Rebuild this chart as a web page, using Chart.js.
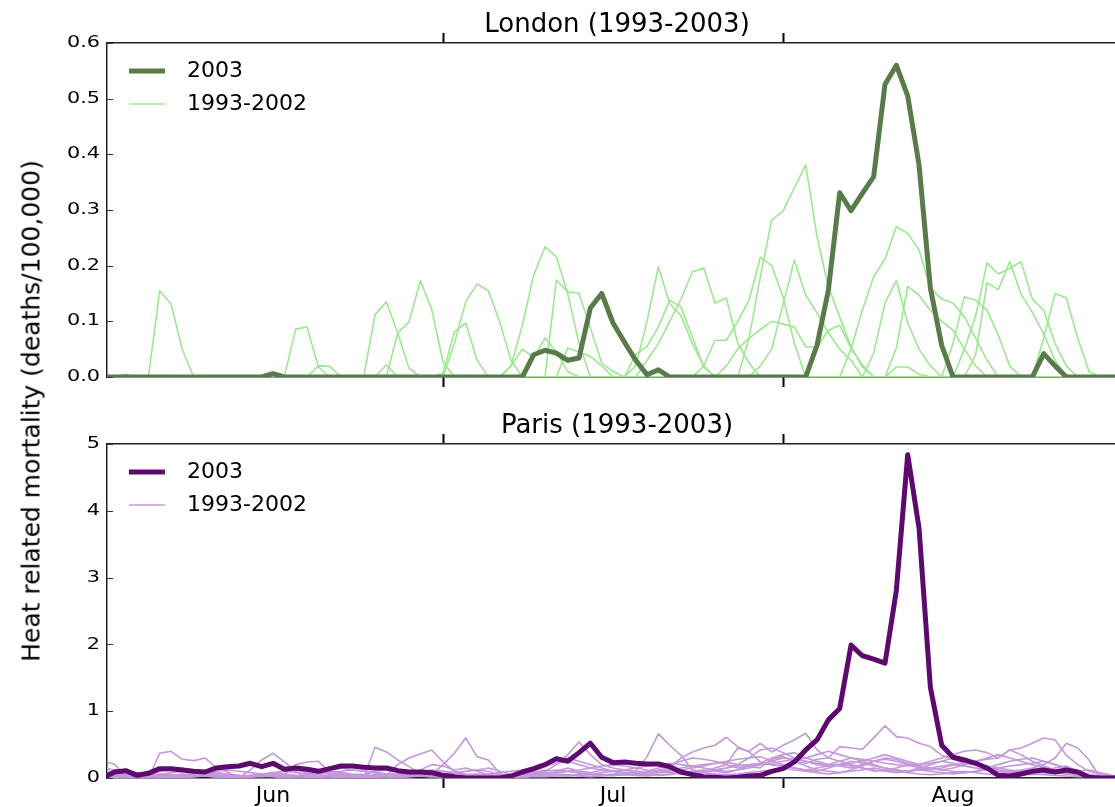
<!DOCTYPE html>
<html>
<head>
<meta charset="utf-8">
<script src="https://cdn.jsdelivr.net/npm/chart.js@4.4.1/dist/chart.umd.min.js"></script>
<style>
body { margin: 0; background: #fff; overflow: hidden; }
#wrap { position: relative; width: 1140px; height: 807px; }
canvas { position: absolute; left: 0; }
#ylabel { position: absolute; left: 31px; top: 411px; transform: translate(-50%, -50%) rotate(-90deg);
  font: 25px "DejaVu Sans"; white-space: nowrap; color: #000; }
</style>
</head>
<body>
<div id="wrap">
  <canvas id="london" width="1140" height="400" style="top:0"></canvas>
  <canvas id="paris" width="1140" height="407" style="top:400px"></canvas>
  <div id="ylabel">Heat related mortality (deaths/100,000)</div>
</div>
<script>
// day index along the summer (x axis)
var days = [0,1,2,3,4,5,6,7,8,9,10,11,12,13,14,15,16,17,18,19,20,21,22,23,24,25,26,27,28,29,
  30,31,32,33,34,35,36,37,38,39,40,41,42,43,44,45,46,47,48,49,50,51,52,53,54,55,56,57,58,59,
  60,61,62,63,64,65,66,67,68,69,70,71,72,73,74,75,76,77,78,79,80,81,82,83,84,85,86,87,88,89,90];

var monthEdges = [30, 60];
var monthMids = [15, 45, 75];
var monthNames = ['Jun', 'Jul', 'Aug'];

var londonTicks = [0, 0.1, 0.2, 0.3, 0.4, 0.5, 0.6];
var londonTickLabels = ['0.0', '0.1', '0.2', '0.3', '0.4', '0.5', '0.6'];
var parisTicks = [0, 1, 2, 3, 4, 5];
var parisTickLabels = ['0', '1', '2', '3', '4', '5'];

var london2003 = [0,0,0,0,0,0,0,0,0,0,
  0,0,0,0,0,0.006,0,0,0,0,
  0,0,0,0,0,0,0,0,0,0,
  0,0,0,0,0,0,0,0,0.04,0.048,
  0.043,0.03,0.034,0.124,0.15,0.097,0.063,0.03,0.004,0.013,
  0,0,0,0,0,0,0,0,0,0,
  0,0,0,0.057,0.156,0.331,0.299,0.33,0.36,0.526,
  0.56,0.505,0.381,0.16,0.057,0,0,0,0,0,
  0,0,0,0.042,0.02,0,0,0,0,0,0];

var londonPast = [
  [0,0,0,0,0,0.155,0.131,0.049,0,0,
   0,0,0,0,0,0,0,0,0,0,
   0,0,0,0,0.112,0.135,0.079,0.016,0,0,
   0,0,0,0,0,0,0.02,0.093,0.183,0.234,
   0.216,0.15,0.06,0,0,0,0,0,0.03,0.06,
   0.1,0.14,0.189,0.196,0.133,0.142,0.061,0.025,0,0,
   0,0,0,0,0,0,0.05,0.12,0.18,0.212,
   0.27,0.258,0.228,0.16,0.14,0.133,0.108,0.07,0.03,0,
   0,0,0,0,0,0,0,0,0,0,0],
  [0,0,0,0,0,0,0,0,0,0,
   0,0,0,0,0,0,0,0.086,0.09,0.018,
   0,0,0,0,0,0,0.079,0.099,0.173,0.122,
   0.027,0,0,0,0,0,0,0,0,0,
   0.174,0.153,0.15,0.088,0.025,0.01,0,0,0,0,
   0,0,0,0.02,0.066,0.066,0.1,0.138,0.215,0.2,
   0.144,0.061,0,0,0,0,0,0,0.043,0.133,
   0.173,0.097,0.05,0.02,0,0,0,0,0,0,
   0,0,0,0.07,0.15,0.142,0.07,0.01,0,0,0],
  [0,0,0,0,0,0,0,0,0,0,
   0,0,0,0,0,0,0,0,0,0,
   0,0,0,0,0,0,0,0,0,0,
   0.007,0.081,0.097,0.03,0,0,0,0,0,0,
   0,0.052,0.045,0.037,0.02,0,0,0.02,0.1,0.198,
   0.132,0.11,0.06,0.02,0,0,0,0.07,0.18,0.282,
   0.298,0.34,0.381,0.252,0.162,0.108,0.054,0.018,0,0,
   0,0,0,0,0,0.06,0.144,0.138,0.12,0.075,
   0.02,0,0,0,0,0,0,0,0,0,0],
  [0,0,0,0,0,0,0,0,0,0,
   0,0,0,0,0,0,0,0,0,0,
   0,0,0,0,0,0,0,0,0,0,
   0,0.06,0.135,0.167,0.155,0.099,0.03,0,0,0,
   0,0,0,0,0,0,0,0.04,0.055,0.09,
   0.138,0.126,0.072,0.018,0,0.02,0.05,0.07,0.085,0.1,
   0.095,0.09,0.054,0.054,0.084,0.093,0.052,0.022,0,0,
   0.052,0.163,0.147,0.12,0.1,0.084,0.05,0.02,0,0,
   0,0,0,0,0,0,0,0,0,0,0],
  [0,0,0,0,0,0,0,0,0,0,
   0,0,0,0,0,0,0,0,0,0,
   0,0,0,0,0,0,0,0,0,0,
   0,0,0,0,0,0,0.02,0.05,0.035,0.07,
   0.045,0.01,0,0,0,0,0,0,0,0,
   0,0,0,0,0,0,0,0,0.02,0.05,
   0.13,0.21,0.147,0.115,0.08,0.05,0.03,0,0,0,
   0,0,0,0,0,0,0.05,0.11,0.205,0.185,
   0.195,0.207,0.14,0.12,0.06,0.02,0,0,0,0,0],
  [0,0,0,0,0,0,0,0,0,0,
   0,0,0,0,0,0,0,0,0,0,
   0,0,0,0,0,0,0,0,0,0,
   0,0,0,0,0,0,0,0,0,0,
   0,0,0,0,0,0,0,0,0,0,
   0,0,0,0,0,0,0,0,0,0,
   0,0,0,0,0,0,0,0,0,0,
   0,0,0,0,0,0,0,0.04,0.169,0.157,
   0.207,0.149,0.116,0.077,0.03,0,0,0,0,0,0],
  [0,0,0.005,0,0,0,0,0,0,0,
   0,0,0,0,0,0,0,0,0,0,
   0,0,0,0,0,0,0,0,0,0,
   0,0,0,0,0,0,0,0,0,0,
   0,0,0,0,0,0,0,0,0,0,
   0,0,0,0,0,0,0,0,0,0,
   0,0,0,0,0,0,0,0,0,0,
   0,0,0,0,0,0,0,0,0,0,
   0,0,0,0,0,0,0,0,0,0,0],
  [0,0,0,0,0,0,0,0,0,0,
   0,0,0,0,0,0,0,0,0,0,
   0,0,0,0,0,0.022,0,0,0,0,
   0,0,0,0,0,0,0,0,0,0,
   0,0,0,0,0,0,0,0,0,0,
   0,0,0,0,0,0,0,0,0,0,
   0,0,0,0,0,0,0,0,0,0,
   0,0,0,0,0,0,0,0,0,0,
   0,0,0,0,0,0,0,0,0,0,0],
  [0,0,0,0,0,0,0,0,0,0,
   0,0,0,0,0,0,0,0,0,0,
   0,0,0,0,0,0,0,0,0,0,
   0,0,0,0,0,0,0,0,0,0,
   0,0,0,0,0,0,0,0,0,0,
   0,0,0,0,0,0,0,0,0,0,
   0,0,0,0,0,0,0,0,0,0,
   0.018,0.018,0.005,0,0,0,0,0,0,0,
   0,0,0,0,0,0,0,0,0,0,0],
  [0,0,0,0,0,0,0,0,0,0,
   0,0,0,0,0,0,0,0,0,0.02,
   0.019,0,0,0,0,0,0,0,0,0,
   0,0,0,0,0,0,0,0,0,0,
   0,0,0,0,0,0,0,0,0,0,
   0,0,0,0,0,0,0,0,0,0,
   0,0,0,0,0,0,0,0,0,0,
   0,0,0,0,0,0,0,0,0,0,
   0,0,0,0,0,0,0,0,0,0,0]
];

var paris2003 = [0,0.09,0.11,0.04,0.07,0.14,0.14,0.12,0.1,0.09,
  0.15,0.17,0.18,0.22,0.17,0.22,0.13,0.15,0.13,0.1,
  0.14,0.18,0.18,0.16,0.15,0.15,0.11,0.09,0.09,0.08,
  0.04,0.02,0,0,0,0,0.03,0.09,0.14,0.2,
  0.29,0.25,0.38,0.52,0.31,0.23,0.24,0.22,0.21,0.21,
  0.17,0.09,0.05,0.02,0.01,0,0.01,0.03,0.04,0.1,
  0.14,0.24,0.42,0.57,0.87,1.04,1.99,1.83,1.78,1.72,
  2.81,4.84,3.74,1.36,0.49,0.31,0.27,0.22,0.15,0.04,
  0.03,0.06,0.1,0.12,0.09,0.12,0.09,0.01,0,0,0];

var parisPast = [
  [0.25,0.21,0.02,0,0.03,0.05,0.04,0.06,0.05,0.03,
   0.02,0,0,0.12,0.27,0.37,0.24,0.1,0,0.02,
   0.05,0.06,0.04,0.02,0,0.03,0.2,0.3,0.36,0.42,
   0.24,0.1,0.02,0,0.03,0.05,0,0.05,0.08,0.12,
   0.1,0.15,0.1,0.08,0.12,0.1,0.07,0.05,0.08,0.12,
   0.15,0.3,0.39,0.45,0.49,0.61,0.47,0.39,0.24,0.2,
   0.18,0.25,0.22,0.28,0.3,0.47,0.45,0.43,0.6,0.78,
   0.62,0.6,0.52,0.47,0.34,0.28,0.22,0.2,0.18,0.15,
   0.12,0.1,0.08,0.12,0.15,0.18,0.1,0.05,0.02,0,0],
  [0.05,0.08,0.1,0.05,0,0.37,0.4,0.28,0.26,0.3,
   0.15,0.09,0,0.02,0.05,0.08,0.06,0.04,0.02,0.05,
   0.08,0.06,0.03,0,0.46,0.39,0.27,0.17,0.07,0.05,
   0.2,0.37,0.6,0.32,0.27,0.07,0,0.02,0.04,0.06,
   0.08,0.1,0.07,0.05,0.04,0.06,0.08,0.1,0.32,0.66,
   0.49,0.34,0.12,0.1,0.15,0.2,0.45,0.4,0.52,0.39,
   0.49,0.57,0.67,0.42,0.3,0.25,0.2,0.15,0.1,0.12,
   0.15,0.2,0.18,0.15,0.12,0.15,0.2,0.25,0.28,0.3,
   0.42,0.45,0.52,0.6,0.57,0.34,0.2,0.1,0.05,0.02,0],
  [0.1,0.08,0.05,0.02,0,0.05,0.08,0.1,0.12,0.1,
   0.08,0.05,0.03,0.02,0.04,0.05,0.05,0.2,0.24,0.25,
   0.09,0,0.02,0.05,0.1,0.12,0.1,0.08,0.05,0.04,
   0.06,0.08,0.1,0.12,0.15,0.1,0.05,0.02,0.05,0.1,
   0.2,0.35,0.54,0.35,0.2,0.15,0.12,0.1,0.08,0.1,
   0.12,0.15,0.18,0.2,0.22,0.25,0.28,0.3,0.32,0.25,
   0.2,0.15,0.12,0.1,0.15,0.2,0.25,0.22,0.18,0.15,
   0.12,0.1,0.15,0.2,0.25,0.3,0.28,0.2,0.15,0.12,
   0.1,0.12,0.15,0.2,0.3,0.52,0.45,0.27,0,0,0],
  [0.02,0.04,0.03,0.02,0.05,0.1,0.12,0.15,0.1,0.08,
   0.05,0.03,0.02,0.02,0.05,0.07,0.1,0.12,0.08,0.05,
   0.02,0,0,0.02,0.05,0.06,0.05,0.04,0.12,0.2,
   0.18,0.12,0.15,0.1,0.05,0.02,0,0.02,0.1,0.18,
   0.22,0.25,0.2,0.15,0.12,0.1,0.08,0.06,0.05,0.08,
   0.1,0.12,0.15,0.18,0.22,0.24,0.2,0.17,0.15,0.28,
   0.32,0.25,0.18,0.12,0.1,0.08,0.12,0.18,0.25,0.3,
   0.28,0.22,0.18,0.15,0.12,0.1,0.08,0.1,0.15,0.2,
   0.25,0.28,0.3,0.25,0.2,0.15,0.1,0.05,0.02,0,0],
  [0,0.02,0.04,0.05,0.04,0.06,0.05,0.04,0.06,0.08,
   0.1,0.12,0.1,0.08,0.06,0.05,0.03,0.02,0.04,0.06,
   0.08,0.1,0.12,0.1,0.08,0.06,0.05,0.04,0.03,0.02,
   0.05,0.08,0.1,0.12,0.1,0.05,0.02,0,0.03,0.05,
   0.08,0.1,0.12,0.15,0.18,0.2,0.18,0.15,0.12,0.1,
   0.08,0.06,0.05,0.08,0.12,0.15,0.2,0.3,0.42,0.45,
   0.38,0.3,0.25,0.2,0.18,0.2,0.22,0.25,0.3,0.35,
   0.3,0.25,0.2,0.25,0.3,0.35,0.4,0.42,0.38,0.3,
   0.42,0.35,0.25,0.18,0.12,0.08,0.05,0.03,0.02,0,0],
  [0.05,0.03,0.02,0,0.02,0.04,0.02,0,0.02,0.05,
   0.08,0.06,0.04,0.02,0.05,0.08,0.1,0.08,0.06,0.08,
   0.1,0.08,0.06,0.05,0.04,0.02,0,0.02,0.05,0.08,
   0.1,0.08,0.05,0.04,0.06,0.08,0.1,0.12,0.15,0.2,
   0.25,0.3,0.25,0.2,0.15,0.1,0.08,0.06,0.05,0.04,
   0.05,0.08,0.1,0.12,0.1,0.08,0.12,0.18,0.2,0.22,
   0.25,0.28,0.3,0.35,0.4,0.35,0.3,0.25,0.2,0.15,
   0.12,0.1,0.12,0.15,0.18,0.2,0.22,0.25,0.3,0.35,
   0.3,0.25,0.2,0.15,0.1,0.08,0.1,0.12,0.08,0.04,0],
  [0.15,0.12,0.1,0.08,0.05,0.02,0,0.02,0.04,0.03,
   0.02,0,0,0.02,0.03,0.02,0,0.02,0.05,0.08,
   0.12,0.15,0.12,0.1,0.08,0.06,0.05,0.08,0.1,0.12,
   0.1,0.08,0.06,0.05,0.03,0.02,0.02,0.05,0.08,0.1,
   0.12,0.1,0.08,0.06,0.05,0.04,0.05,0.08,0.1,0.15,
   0.2,0.25,0.3,0.28,0.25,0.2,0.15,0.18,0.22,0.3,
   0.35,0.38,0.3,0.25,0.2,0.18,0.15,0.2,0.25,0.28,
   0.25,0.2,0.15,0.12,0.15,0.2,0.18,0.15,0.12,0.1,
   0.08,0.1,0.12,0.1,0.08,0.06,0.04,0.02,0.02,0,0],
  [0.08,0.06,0.04,0.05,0.06,0.04,0.02,0.02,0.03,0.05,
   0.04,0.03,0.02,0.04,0.06,0.04,0.02,0.02,0.03,0.02,
   0.02,0.03,0.05,0.04,0.03,0.02,0.03,0.05,0.06,0.05,
   0.03,0.02,0.04,0.06,0.05,0.03,0.02,0.04,0.06,0.08,
   0.06,0.05,0.04,0.05,0.08,0.1,0.12,0.15,0.18,0.2,
   0.22,0.2,0.18,0.15,0.12,0.1,0.12,0.15,0.2,0.25,
   0.3,0.28,0.25,0.22,0.2,0.25,0.3,0.28,0.25,0.22,
   0.2,0.18,0.2,0.22,0.25,0.22,0.18,0.15,0.12,0.15,
   0.18,0.2,0.22,0.25,0.2,0.15,0.1,0.05,0.02,0,0],
  [0.03,0.02,0.02,0.01,0.02,0.03,0.02,0.01,0.02,0.03,
   0.02,0.02,0.03,0.02,0.02,0.03,0.04,0.03,0.02,0.02,
   0.03,0.04,0.03,0.02,0.02,0.03,0.02,0.02,0.03,0.04,
   0.03,0.02,0.03,0.05,0.04,0.03,0.02,0.03,0.04,0.05,
   0.04,0.03,0.05,0.06,0.05,0.04,0.05,0.06,0.08,0.1,
   0.12,0.1,0.08,0.1,0.12,0.15,0.18,0.2,0.22,0.2,
   0.18,0.15,0.12,0.15,0.18,0.2,0.18,0.15,0.12,0.1,
   0.08,0.1,0.12,0.1,0.08,0.06,0.08,0.1,0.12,0.1,
   0.08,0.06,0.05,0.06,0.08,0.06,0.04,0.02,0.01,0,0],
  [0.01,0.01,0.02,0.03,0.02,0.01,0.02,0.03,0.04,0.03,
   0.02,0.01,0.01,0.02,0.03,0.04,0.03,0.02,0.01,0.01,
   0.02,0.03,0.02,0.01,0.01,0.02,0.03,0.04,0.03,0.02,
   0.01,0.02,0.03,0.02,0.01,0.01,0.02,0.03,0.02,0.02,
   0.03,0.04,0.03,0.02,0.03,0.04,0.05,0.04,0.03,0.05,
   0.06,0.08,0.1,0.08,0.06,0.05,0.06,0.08,0.1,0.12,
   0.15,0.12,0.1,0.08,0.06,0.08,0.1,0.12,0.15,0.12,
   0.1,0.08,0.06,0.05,0.06,0.08,0.1,0.08,0.06,0.05,
   0.04,0.05,0.06,0.05,0.04,0.03,0.02,0.02,0.01,0,0]
];

var FONT = '"DejaVu Sans"';

function decor(title, dark, light, tickLabels, showMonths) {
    return {
        id: 'decor',
        afterDraw: function(chart) {
            var ctx = chart.ctx, ca = chart.chartArea;
            var y = chart.scales.y, x = chart.scales.x;
            ctx.save();

            // small inward ticks on the left spine
            ctx.strokeStyle = '#333';
            ctx.lineWidth = 1;
            y.ticks.forEach(function(t) {
                var py = Math.round(y.getPixelForValue(t.value)) + 0.5;
                ctx.beginPath();
                ctx.moveTo(ca.left, py);
                ctx.lineTo(ca.left + 6, py);
                ctx.stroke();
            });

            // y tick labels (drawn a bit wide like the original)
            ctx.fillStyle = '#000';
            ctx.font = '16px ' + FONT;
            ctx.textAlign = 'right';
            ctx.textBaseline = 'middle';
            y.ticks.forEach(function(t, i) {
                ctx.save();
                ctx.translate(ca.left - 7, y.getPixelForValue(t.value));
                ctx.scale(1.3, 1);
                ctx.fillText(tickLabels[i], 0, 0);
                ctx.restore();
            });

            // panel title
            ctx.textAlign = 'center';
            ctx.font = '26px ' + FONT;
            ctx.fillText(title, (ca.left + ca.right) / 2, ca.top - 18);

            // legend
            ctx.lineCap = 'butt';
            ctx.strokeStyle = dark;
            ctx.lineWidth = 5;
            ctx.beginPath();
            ctx.moveTo(ca.left + 22, ca.top + 28);
            ctx.lineTo(ca.left + 58, ca.top + 28);
            ctx.stroke();
            ctx.strokeStyle = light;
            ctx.lineWidth = 1.6;
            ctx.beginPath();
            ctx.moveTo(ca.left + 22, ca.top + 61);
            ctx.lineTo(ca.left + 58, ca.top + 61);
            ctx.stroke();
            ctx.font = '22px ' + FONT;
            ctx.textAlign = 'left';
            ctx.fillText('2003', ca.left + 80, ca.top + 28);
            ctx.fillText('1993-2002', ca.left + 80, ca.top + 61);

            // month names under the lower panel
            if (showMonths) {
                ctx.textAlign = 'center';
                monthMids.forEach(function(m, i) {
                    ctx.fillText(monthNames[i], x.getPixelForValue(m), ca.bottom + 18);
                });
            }
            ctx.restore();
        }
    };
}

function xAxis(pos, h) {
    return {
        type: 'linear',
        position: pos,
        min: 0.35,
        max: 90.35,
        z: 1,
        afterBuildTicks: function(s) {
            s.ticks = monthEdges.map(function(v) { return { value: v }; });
        },
        afterFit: function(s) { s.height = h; },
        ticks: { display: false },
        grid: { drawOnChartArea: false, drawTicks: true, tickLength: 10, tickWidth: 2, tickColor: '#000' },
        border: { color: '#222', width: 1.5 }
    };
}

function makePanel(id, title, y2003, past, dark, light, yTicks, yLabels, yMax, padTop, bottomH, showMonths) {
    // 2003 drawn on top of the earlier years
    var sets = [{
        label: '2003', data: y2003, borderColor: dark, borderWidth: 5, order: 0
    }];
    past.forEach(function(s) {
        sets.push({ label: '1993-2002', data: s, borderColor: light, borderWidth: 1.6, order: 1 });
    });
    sets.forEach(function(d) {
        d.pointRadius = 0;
        d.tension = 0;
        d.fill = false;
        d.clip = 0;
        d.borderJoinStyle = 'round';
    });

    var config = {
        type: 'line',
        data: { labels: days, datasets: sets },
        options: {
            responsive: false,
            animation: false,
            layout: { padding: { left: 0, right: 13, top: padTop, bottom: 0 } },
            plugins: { legend: { display: false }, tooltip: { enabled: false }, title: { display: false } },
            scales: {
                x: xAxis('bottom', bottomH),
                xt: xAxis('top', 10),
                y: {
                    min: 0,
                    max: yMax,
                    z: 1,
                    afterBuildTicks: function(s) {
                        s.ticks = yTicks.map(function(v) { return { value: v }; });
                    },
                    afterFit: function(s) { s.width = 107; },
                    ticks: { display: false },
                    grid: { drawOnChartArea: false, drawTicks: false },
                    border: { color: '#222', width: 1.5 }
                }
            }
        },
        plugins: [decor(title, dark, light, yLabels, showMonths)]
    };
    return new Chart(document.getElementById(id).getContext('2d'), config);
}

makePanel('london', 'London (1993-2003)', london2003, londonPast, '#587b49', '#9be88f',
    londonTicks, londonTickLabels, 0.6, 33, 23, false);
makePanel('paris', 'Paris (1993-2003)', paris2003, parisPast, '#5c0a6e', '#c497db',
    parisTicks, parisTickLabels, 5, 34, 29, true);
</script>
</body>
</html>
